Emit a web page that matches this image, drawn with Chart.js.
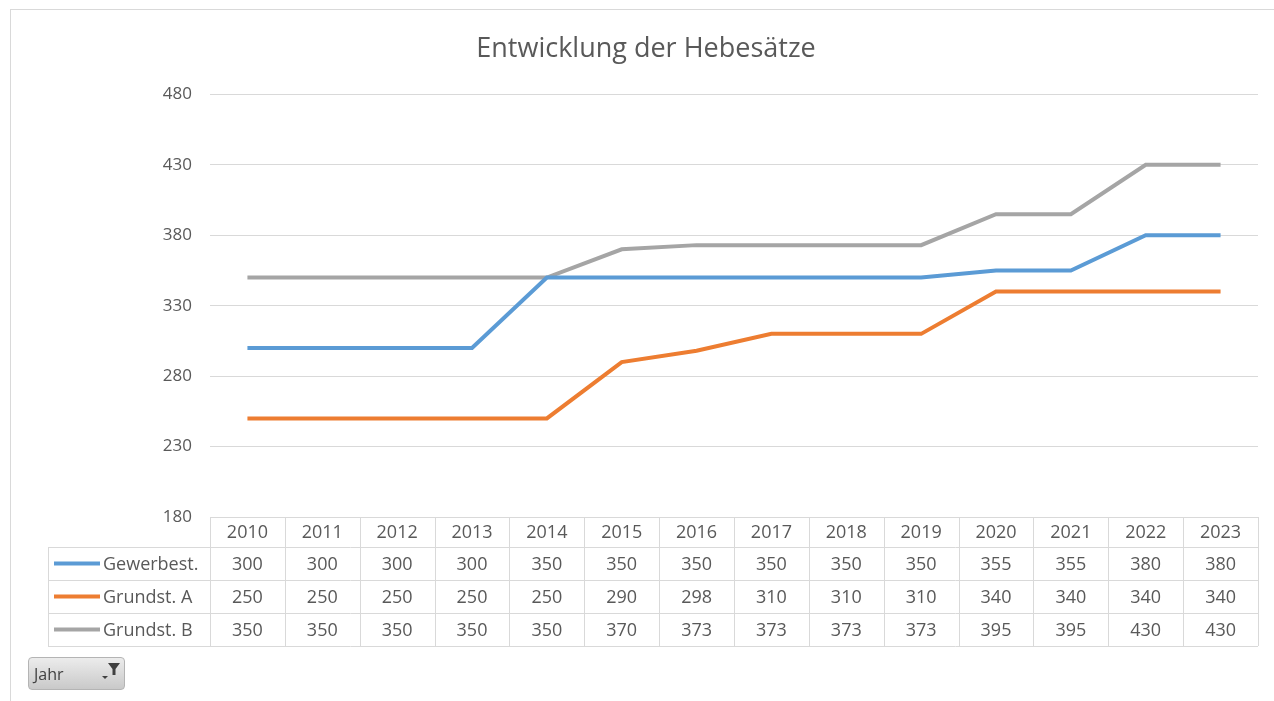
<!DOCTYPE html>
<html>
<head>
<meta charset="utf-8">
<script src="https://cdn.jsdelivr.net/npm/chart.js@4/dist/chart.umd.min.js"></script>
<style>
  body { margin: 0; background: #fff; }
  #wrap { position: relative; width: 1274px; height: 701px; overflow: hidden; }
  #frame { position: absolute; left: 10px; top: 9px; right: -5px; bottom: -5px;
           border-top: 1px solid #d9d9d9; border-left: 1px solid #d9d9d9; }
  #jahr { position: absolute; left: 28px; top: 657px; width: 95px; height: 31px;
          border: 1px solid #b4b4b4; border-radius: 4px;
          background: linear-gradient(#ececec, #c9c9c9);
          font-family: "Open Sans", sans-serif; font-size: 16px; color: #404040; }
  #jahr span { position: absolute; left: 5px; top: 5px; }
  #jahr svg { position: absolute; left: 72px; top: 2px; }
</style>
</head>
<body>
<div id="wrap">
  <canvas id="chart" width="1274" height="701"></canvas>
  <div id="frame"></div>
  <div id="jahr"><span>Jahr</span>
    <svg width="20" height="22" viewBox="0 0 20 22">
      <polygon points="7,3 19,3 14.5,9 14.5,15 11.5,15 11.5,9" fill="#404040"/>
      <polygon points="1,16 7,16 4,19" fill="#404040"/>
    </svg>
  </div>
</div>
<script>
// Data
const years = ['2010', '2011', '2012', '2013', '2014', '2015', '2016', '2017', '2018', '2019', '2020', '2021', '2022', '2023'];
const gewerbest = [300, 300, 300, 300, 350, 350, 350, 350, 350, 350, 355, 355, 380, 380];
const grundstA = [250, 250, 250, 250, 250, 290, 298, 310, 310, 310, 340, 340, 340, 340];
const grundstB = [350, 350, 350, 350, 350, 370, 373, 373, 373, 373, 395, 395, 430, 430];
const seriesNames = ['Gewerbest.', 'Grundst. A', 'Grundst. B'];
const seriesColors = ['#5b9bd5', '#ed7d31', '#a5a5a5'];
const yMin = 180, yMax = 480, yStep = 50;

const textColor = '#595959';
const gridColor = '#d9d9d9';
const fontFamily = '"Open Sans", sans-serif';

// data table under the plot, drawn from the x scale
const dataTable = {
  id: 'dataTable',
  afterDraw(chart) {
    const ctx = chart.ctx;
    const x = chart.scales.x;
    const area = chart.chartArea;
    const headH = 30, rowH = 33, legLeft = 48;
    const top = area.bottom;
    const rowsTop = top + headH;
    const bottom = rowsTop + rowH * seriesNames.length;

    const bounds = [area.left];
    for (let i = 0; i < years.length - 1; i++) {
      bounds.push((x.getPixelForValue(i) + x.getPixelForValue(i + 1)) / 2);
    }
    bounds.push(area.right);

    ctx.save();
    ctx.strokeStyle = gridColor;
    ctx.lineWidth = 1;
    ctx.beginPath();
    bounds.forEach(b => {
      const bx = Math.round(b) + 0.5;
      ctx.moveTo(bx, top);
      ctx.lineTo(bx, bottom);
    });
    ctx.moveTo(legLeft + 0.5, rowsTop);
    ctx.lineTo(legLeft + 0.5, bottom);
    ctx.moveTo(area.left, top + 0.5);
    ctx.lineTo(area.right, top + 0.5);
    for (let r = 0; r <= seriesNames.length; r++) {
      const ry = Math.round(rowsTop + r * rowH) + 0.5;
      ctx.moveTo(legLeft, ry);
      ctx.lineTo(area.right, ry);
    }
    ctx.stroke();

    ctx.fillStyle = textColor;
    ctx.font = '18px ' + fontFamily;
    ctx.textAlign = 'center';
    ctx.textBaseline = 'middle';
    years.forEach((y, i) => ctx.fillText(y, x.getPixelForValue(i), top + headH / 2 + 1));

    chart.data.datasets.forEach((ds, r) => {
      const cy = rowsTop + r * rowH + rowH / 2 + 1;
      ctx.strokeStyle = seriesColors[r];
      ctx.lineWidth = 4;
      ctx.beginPath();
      ctx.moveTo(54, cy - 1);
      ctx.lineTo(100, cy - 1);
      ctx.stroke();
      ctx.textAlign = 'left';
      ctx.fillText(seriesNames[r], 103, cy);
      ctx.textAlign = 'center';
      ds.data.forEach((v, i) => ctx.fillText(String(v), x.getPixelForValue(i), cy));
    });
    ctx.restore();
  }
};

new Chart(document.getElementById('chart'), {
  type: 'line',
  data: {
    labels: years,
    datasets: [gewerbest, grundstA, grundstB].map((d, i) => ({
      label: seriesNames[i],
      data: d,
      borderColor: seriesColors[i],
      borderWidth: 4,
      pointRadius: 0,
      tension: 0,
      fill: false
    }))
  },
  options: {
    responsive: false,
    animation: false,
    layout: { padding: { left: 34, right: 16, top: 0, bottom: 184 } },
    plugins: {
      legend: { display: false },
      tooltip: { enabled: false },
      title: {
        display: true,
        text: 'Entwicklung der Hebesätze',
        color: textColor,
        font: { family: fontFamily, size: 27, weight: 'normal' },
        padding: { top: 33, bottom: 29 }
      }
    },
    scales: {
      x: { display: false, offset: true },
      y: {
        min: yMin,
        max: yMax,
        afterFit(scale) { scale.width = 176; },
        ticks: {
          stepSize: yStep,
          color: textColor,
          padding: 18,
          font: { family: fontFamily, size: 17 }
        },
        grid: { color: gridColor, drawTicks: false },
        border: { display: false }
      }
    }
  },
  plugins: [dataTable]
});
</script>
</body>
</html>
